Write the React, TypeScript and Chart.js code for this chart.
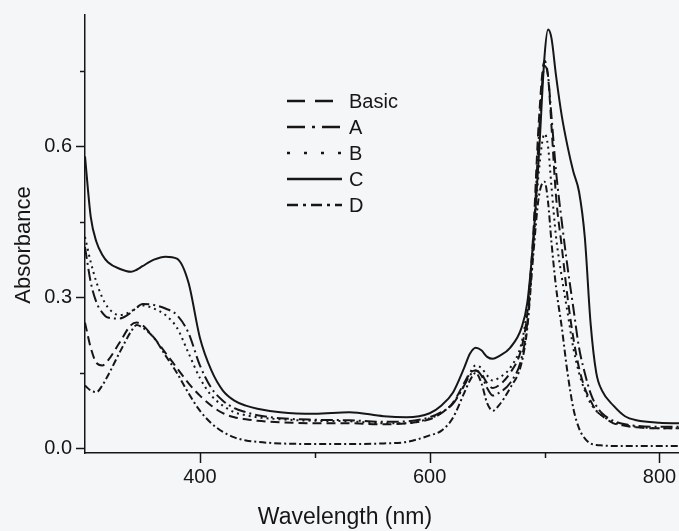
import React, { useEffect, useRef } from "react";
import { Chart, registerables } from "chart.js";

Chart.register(...registerables);

// ---- data ----
const wavelengths = [
  300, 305, 310, 315, 320, 330, 340, 345, 350, 360, 370, 380, 390, 400, 410, 420, 430, 440, 450, 470,
  500, 530, 560, 580, 600, 610, 620, 630, 635, 640, 645, 650, 655, 660, 670, 680, 685, 690, 695, 700,
  703, 706, 710, 715, 720, 725, 730, 735, 740, 745, 750, 760, 770, 780, 800, 817,
];
const basicValues = [
  0.25, 0.2, 0.17, 0.165, 0.175, 0.21, 0.245, 0.25, 0.245, 0.22, 0.19, 0.16, 0.13, 0.105, 0.085, 0.07, 0.062, 0.058, 0.055, 0.052,
  0.05, 0.05, 0.048, 0.05, 0.058, 0.07, 0.09, 0.13, 0.15, 0.155, 0.148, 0.13, 0.12, 0.125, 0.15, 0.2, 0.27, 0.42, 0.65, 0.77,
  0.74, 0.64, 0.5, 0.4, 0.3, 0.22, 0.16, 0.12, 0.095, 0.075, 0.065, 0.05, 0.045, 0.042, 0.04, 0.04,
];
const aValues = [
  0.4, 0.33, 0.29, 0.27, 0.26, 0.258, 0.27, 0.28, 0.287, 0.285, 0.278, 0.265, 0.23, 0.165, 0.12, 0.095, 0.08, 0.072, 0.066, 0.06,
  0.057, 0.056, 0.053, 0.054, 0.062, 0.072, 0.088, 0.125, 0.145, 0.155, 0.145, 0.12, 0.105, 0.11, 0.13, 0.18, 0.25, 0.4, 0.62, 0.76,
  0.74, 0.66, 0.55, 0.45, 0.36, 0.28, 0.2, 0.15, 0.11, 0.085, 0.07, 0.055, 0.048, 0.045, 0.043, 0.043,
];
const bValues = [
  0.42, 0.37, 0.33, 0.3, 0.28, 0.265, 0.272, 0.28, 0.284, 0.278, 0.265, 0.24, 0.19, 0.14, 0.105, 0.085, 0.072, 0.066, 0.062, 0.058,
  0.055, 0.054, 0.05, 0.05, 0.06, 0.07, 0.09, 0.125, 0.15, 0.165, 0.16, 0.145, 0.135, 0.14, 0.16, 0.21, 0.28, 0.4, 0.55, 0.625,
  0.6, 0.52, 0.42, 0.34, 0.27, 0.2, 0.15, 0.115, 0.09, 0.075, 0.065, 0.052, 0.046, 0.043, 0.04, 0.04,
];
const cValues = [
  0.58, 0.46, 0.41, 0.385, 0.37, 0.357, 0.351, 0.355, 0.362, 0.375, 0.381, 0.377, 0.33, 0.22, 0.155, 0.115, 0.095, 0.085, 0.079, 0.072,
  0.069, 0.072, 0.064, 0.062, 0.07, 0.085, 0.11, 0.16, 0.188, 0.2, 0.195, 0.182, 0.178, 0.183, 0.2, 0.24, 0.29, 0.41, 0.58, 0.78,
  0.832, 0.815, 0.74, 0.66, 0.6, 0.55, 0.51, 0.42, 0.25, 0.15, 0.115, 0.085, 0.064, 0.056, 0.051, 0.05,
];
const dValues = [
  0.125, 0.115, 0.112, 0.125, 0.145, 0.19, 0.232, 0.245, 0.24, 0.22, 0.185, 0.15, 0.11, 0.075, 0.05, 0.033, 0.022, 0.016, 0.013, 0.01,
  0.009, 0.009, 0.01, 0.013, 0.026, 0.035, 0.06, 0.11, 0.135, 0.15, 0.13, 0.09, 0.075, 0.085, 0.12, 0.17, 0.24, 0.38, 0.5, 0.53,
  0.49, 0.41, 0.32, 0.24, 0.15, 0.08, 0.04, 0.02, 0.01, 0.007, 0.006, 0.005, 0.005, 0.005, 0.005, 0.005,
];
const seriesNames = ["Basic", "A", "B", "C", "D"];
const seriesValues = [basicValues, aValues, bValues, cValues, dValues];
const xTickValues = [400, 500, 600, 700, 800];
const xTickLabels = [400, 600, 800];
const yTickValues = [0, 0.15, 0.3, 0.45, 0.6, 0.75];
const yTickLabels = [0, 0.3, 0.6];
const xTitle = "Wavelength (nm)";
const yTitle = "Absorbance";

// ---- styles ----
const FONT = '"Liberation Sans", Arial, Helvetica, sans-serif';
const INK = "#161616";
const plotDash: number[][] = [[9, 5], [12, 4, 2, 4], [2, 4], [], [7, 3, 2, 3]];
const legendDash: number[][] = [[18, 10], [18, 7, 3, 7], [3, 14], [], [11, 5, 3, 5]];

const isIn = (arr: number[], v: number) => arr.some((a) => Math.abs(a - v) < 1e-6);

const bgPlugin = {
  id: "bg",
  beforeDraw(chart: any) {
    const ctx = chart.ctx;
    ctx.save();
    ctx.fillStyle = "#f5f6f8";
    ctx.fillRect(0, 0, chart.width, chart.height);
    ctx.restore();
  },
};

const decoPlugin = {
  id: "deco",
  afterDraw(chart: any) {
    const ctx = chart.ctx;
    const xs = chart.scales.x;
    const ys = chart.scales.y;
    const area = chart.chartArea;
    ctx.save();
    ctx.strokeStyle = INK;
    ctx.lineWidth = 1.5;
    ctx.setLineDash([]);
    xTickValues.forEach((v) => {
      const px = Math.round(xs.getPixelForValue(v)) + 0.5;
      const len = isIn(xTickLabels, v) ? 10 : 5;
      ctx.beginPath();
      ctx.moveTo(px, area.bottom);
      ctx.lineTo(px, area.bottom + len);
      ctx.stroke();
    });
    yTickValues.forEach((v) => {
      const py = Math.round(ys.getPixelForValue(v)) + 0.5;
      const len = isIn(yTickLabels, v) ? 9 : 5;
      ctx.beginPath();
      ctx.moveTo(area.left, py);
      ctx.lineTo(area.left - len, py);
      ctx.stroke();
    });
    ctx.fillStyle = INK;
    ctx.textAlign = "center";
    ctx.textBaseline = "middle";
    ctx.font = `23px ${FONT}`;
    ctx.fillText(xTitle, 345, 518);
    ctx.font = `22px ${FONT}`;
    ctx.save();
    ctx.translate(24, 245);
    ctx.rotate(-Math.PI / 2);
    ctx.fillText(yTitle, 0, 0);
    ctx.restore();
    const rows = [101, 127, 153, 179, 205];
    ctx.font = `20px ${FONT}`;
    ctx.textAlign = "left";
    seriesNames.forEach((name, i) => {
      const y = rows[i];
      ctx.lineWidth = 2.5;
      ctx.setLineDash(legendDash[i]);
      ctx.beginPath();
      ctx.moveTo(287, y);
      ctx.lineTo(342, y);
      ctx.stroke();
      ctx.setLineDash([]);
      ctx.fillText(name, 349, y + 1);
    });
    ctx.restore();
  },
};

export default function App() {
  const ref = useRef<HTMLCanvasElement>(null);
  useEffect(() => {
    const canvas = ref.current!;
    const datasets = seriesNames.map((name, i) => ({
      label: name,
      data: wavelengths.map((x, j) => ({ x, y: seriesValues[i][j] })),
      borderColor: INK,
      borderWidth: 2,
      borderDash: plotDash[i],
      pointRadius: 0,
      fill: false,
      cubicInterpolationMode: "monotone" as const,
    }));
    const chart = new Chart(canvas, {
      type: "line",
      data: { datasets },
      options: {
        animation: false,
        responsive: false,
        devicePixelRatio: 1,
        layout: { padding: { top: 15, right: 0, left: 0, bottom: 0 } },
        plugins: { legend: { display: false }, tooltip: { enabled: false } },
        scales: {
          x: {
            type: "linear",
            min: 300,
            max: 817,
            afterFit: (s: any) => {
              s.height = 78;
              s.paddingLeft = 0;
              s.paddingRight = 0;
              s.paddingTop = 0;
              s.paddingBottom = 0;
            },
            afterBuildTicks: (s: any) => {
              s.ticks = xTickValues.map((v) => ({ value: v }));
            },
            ticks: {
              callback: (v: any) => (isIn(xTickLabels, Number(v)) ? String(v) : ""),
              font: { family: FONT, size: 20 },
              color: INK,
              padding: 12,
              maxRotation: 0,
              autoSkip: false,
            },
            grid: { display: false, drawTicks: false },
            border: { display: true, color: INK, width: 1.5 },
          },
          y: {
            type: "linear",
            min: -0.009,
            max: 0.861,
            afterFit: (s: any) => {
              s.width = 85;
              s.paddingLeft = 0;
              s.paddingRight = 0;
              s.paddingTop = 0;
              s.paddingBottom = 0;
            },
            afterBuildTicks: (s: any) => {
              s.ticks = yTickValues.map((v) => ({ value: v }));
            },
            ticks: {
              callback: (v: any) => (isIn(yTickLabels, Number(v)) ? Number(v).toFixed(1) : ""),
              font: { family: FONT, size: 20 },
              color: INK,
              padding: 13,
              autoSkip: false,
            },
            grid: { display: false, drawTicks: false },
            border: { display: true, color: INK, width: 1.5 },
          },
        },
      },
      plugins: [bgPlugin, decoPlugin],
    });
    return () => chart.destroy();
  }, []);
  return (
    <div style={{ position: "fixed", left: 0, top: 0, width: 679, height: 531 }}>
      <canvas ref={ref} width={679} height={531} style={{ display: "block", width: 679, height: 531 }} />
    </div>
  );
}
